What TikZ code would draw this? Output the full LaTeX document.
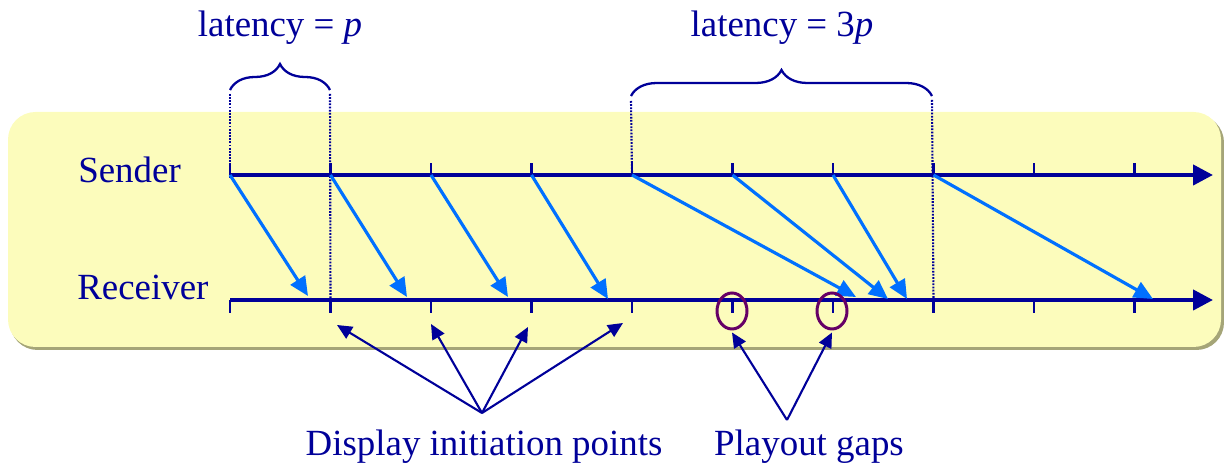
\documentclass[tikz,border=0pt]{standalone}
\usepackage{fontspec}
\setmainfont{Liberation Serif}
\usepackage{tikz}
\usetikzlibrary{arrows.meta}
\usetikzlibrary{decorations.pathreplacing}
\usetikzlibrary{shapes,positioning}
\definecolor{penColor}{RGB}{0,0,153}
\definecolor{msgColor}{RGB}{0,112,255}
\definecolor{gapColor}{RGB}{102,0,102}
\definecolor{boxColor}{RGB}{252,252,188}
\definecolor{shadowColor}{RGB}{165,165,120}
\tikzset{>=Stealth,
  timeline/.style={penColor,line width=2.4pt,-{Triangle[length=0.4cm,width=0.4cm]}},
  tickmark/.style={penColor,line width=1.2pt},
  msg/.style={msgColor,line width=1.8pt,-{Triangle[length=0.38cm,width=0.34cm]}},
  pointer/.style={penColor,line width=1.2pt,-{Triangle[length=0.3cm,width=0.27cm]}},
  guide/.style={penColor,line width=1.2pt,dash pattern=on 1pt off 0.8pt},
  latbrace/.style={penColor,line width=1.3pt,decorate,decoration={brace,amplitude=0.52cm}},
  txt/.style={text=penColor,font=\fontsize{21}{26}\selectfont,inner sep=0pt},
  gapring/.style={draw=gapColor,line width=1.7pt,ellipse,minimum width=0.6cm,minimum height=0.72cm,inner sep=0pt}}

\begin{document}
\begin{tikzpicture}[x=0.02cm,y=-0.02cm]
  \useasboundingbox (0,0) rectangle (1224,465);
  \fill[shadowColor,rounded corners=0.55cm] (10,115) rectangle (1224,350);
  \fill[boxColor,rounded corners=0.55cm] (8,112) rectangle (1221,347);

  \node[txt,anchor=base west] (sender) at (78,183) {Sender};
  \node[txt,anchor=base west] (receiver) at (77,300) {Receiver};

  \foreach \i in {0,...,9}{
    \coordinate (s\i) at (230+100.5*\i,175);
    \coordinate (r\i) at (230+100.5*\i,300);
    \draw[tickmark] (s\i) -- ++(0,-12);
    \draw[tickmark] (r\i) -- ++(0,13);
  }
  \coordinate (send) at (1213,175);
  \coordinate (rend) at (1213,300);
  \draw[timeline] (s0) -- (send);
  \draw[timeline] (r0) -- (rend);

  % latency braces
  \coordinate (l1a) at (230,90);
  \coordinate (l1b) at (330,90);
  \coordinate (l2a) at (631,96);
  \coordinate (l2b) at (932,96);
  \draw[latbrace] (l1a) -- (l1b);
  \draw[latbrace] (l2a) -- (l2b);
  \draw[guide] ([yshift=-0.08cm]l1a) -- ([yshift=-0.06cm]s0);
  \draw[guide] ([yshift=-0.08cm]l1b) -- (r1);
  \draw[guide] ([yshift=-0.1cm]l2a) -- (s4);
  \draw[guide] ([yshift=-0.08cm]l2b) -- (r7);
  \node[txt,anchor=base] (lat1) at (280,37) {latency = \textit{p}};
  \node[txt,anchor=base] (lat2) at (782,37) {latency = 3\textit{p}};

  % packets
  \coordinate (a0) at (308,296);
  \coordinate (a1) at (407,297);
  \coordinate (a2) at (508,297);
  \coordinate (a3) at (608,299);
  \coordinate (a4) at (856,297);
  \coordinate (a5) at (888,299);
  \coordinate (a6) at (907,299);
  \coordinate (a7) at (1153,299);
  \foreach \i in {0,...,7}
    \draw[msg] (s\i) -- (a\i);

  \node[gapring] (gap1) at (732,311) {};
  \node[gapring] (gap2) at (832,311) {};

  \node[txt,anchor=base] (dip) at (484,456) {Display initiation points};
  \node[txt,anchor=base] (gaps) at (809,456) {Playout gaps};
  \coordinate (dipapex) at (482,413);
  \coordinate (gapapex) at (787,420);
  \coordinate (d1) at (337,325);
  \coordinate (d2) at (431,324);
  \coordinate (d3) at (528,327);
  \coordinate (d4) at (623,323);
  \foreach \i in {1,...,4}
    \draw[pointer] (dipapex) -- (d\i);
  \draw[pointer] (gapapex) -- ([yshift=-0.04cm]gap1.south);
  \draw[pointer] (gapapex) -- ([yshift=-0.04cm]gap2.south);
\end{tikzpicture}
\end{document}
